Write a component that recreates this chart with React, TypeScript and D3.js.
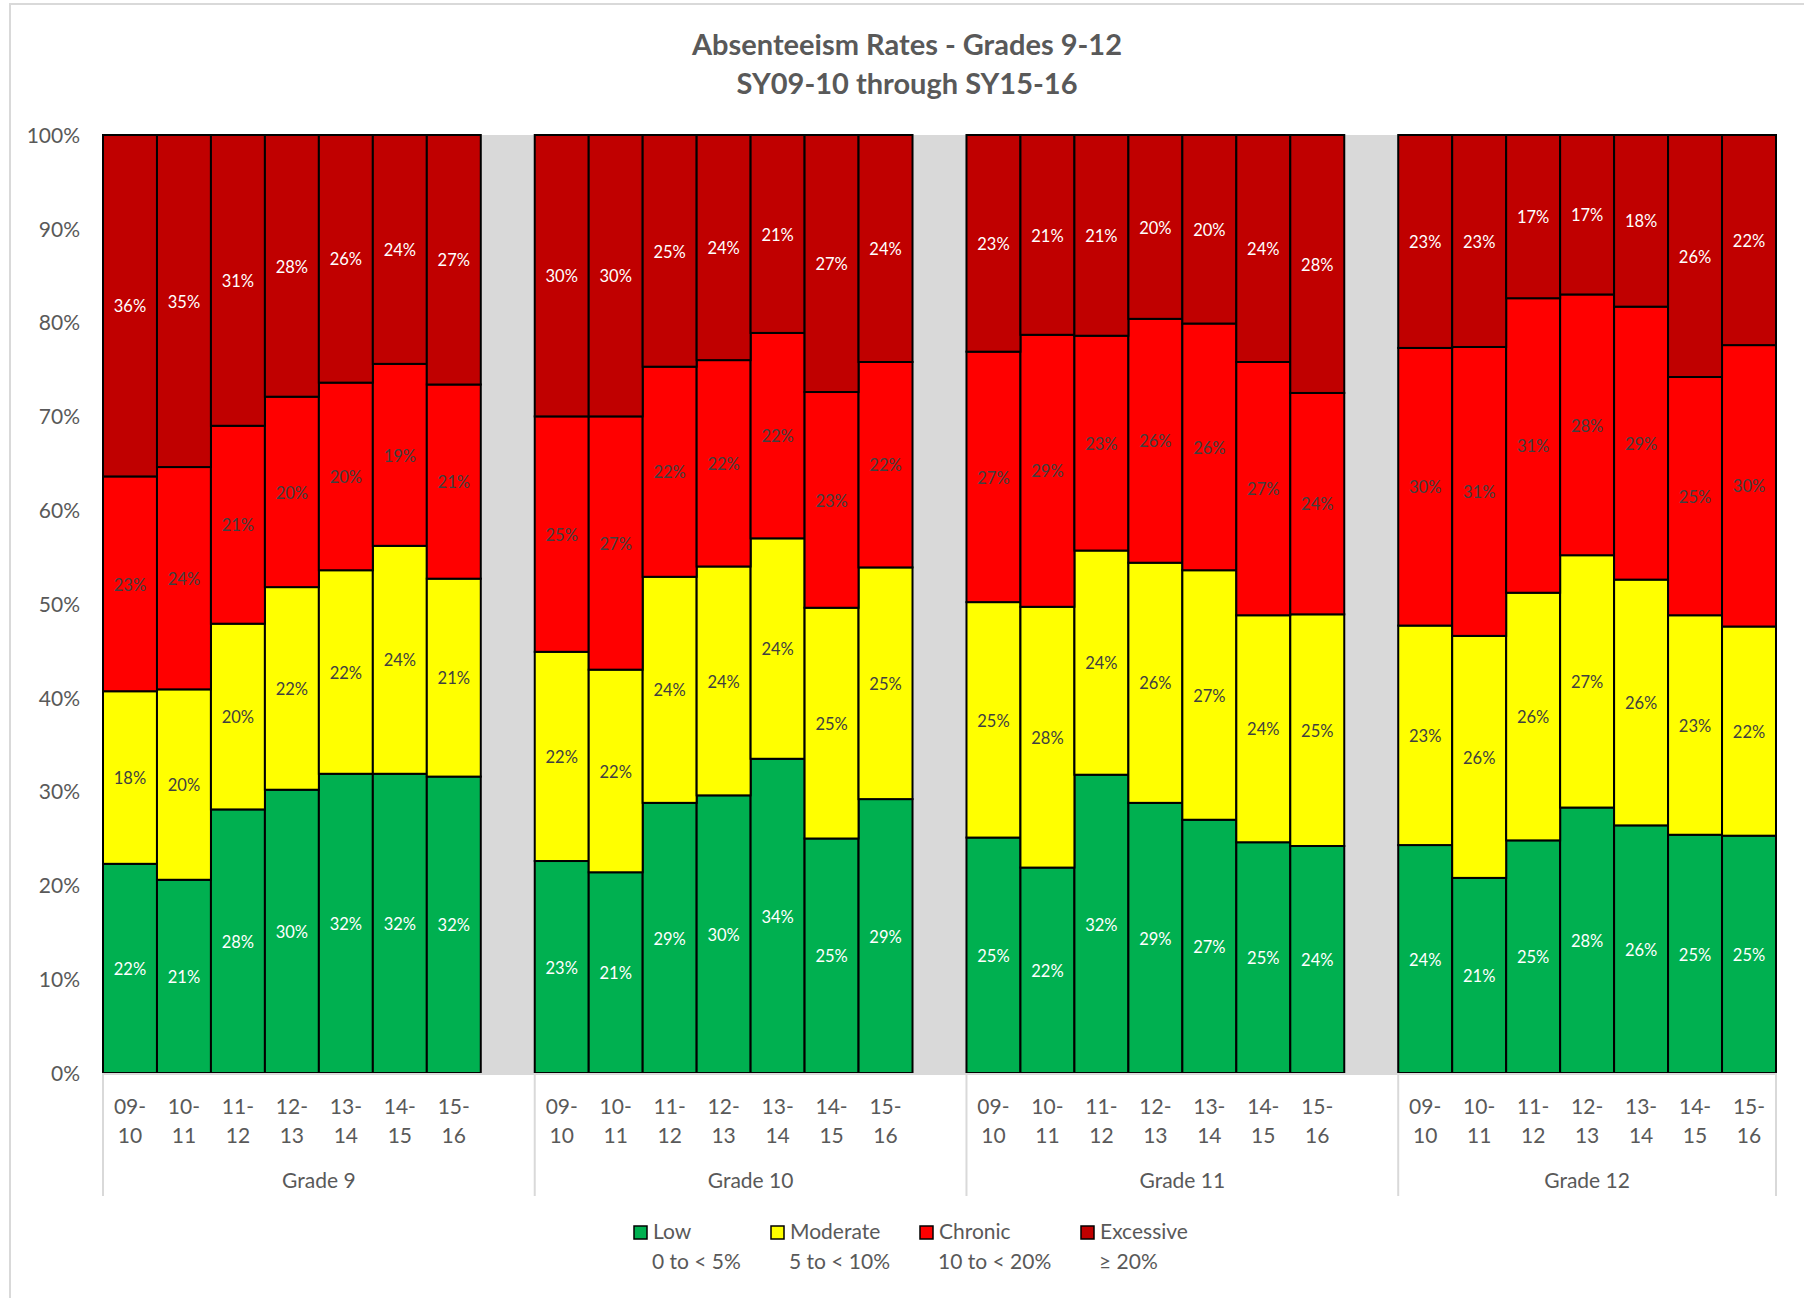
import React from "react";
import * as d3 from "d3";

const grades = ["Grade 9", "Grade 10", "Grade 11", "Grade 12"];
const years = ["09-10", "10-11", "11-12", "12-13", "13-14", "14-15", "15-16"];

// Percent of students in each absenteeism band, per grade (rows) and school year (columns)
const lowPct = [
  [22.3, 20.6, 28.1, 30.2, 31.9, 31.9, 31.6],
  [22.6, 21.4, 28.8, 29.6, 33.5, 25.0, 29.2],
  [25.1, 21.9, 31.8, 28.8, 27.0, 24.6, 24.2],
  [24.3, 20.8, 24.8, 28.3, 26.4, 25.4, 25.3],
];
const moderatePct = [
  [18.4, 20.3, 19.8, 21.6, 21.7, 24.3, 21.1],
  [22.3, 21.6, 24.1, 24.4, 23.5, 24.6, 24.7],
  [25.1, 27.8, 23.9, 25.6, 26.6, 24.2, 24.7],
  [23.4, 25.8, 26.4, 26.9, 26.2, 23.4, 22.3],
];
const chronicPct = [
  [22.9, 23.7, 21.1, 20.3, 20.0, 19.4, 20.7],
  [25.1, 27.0, 22.4, 22.0, 21.9, 23.0, 21.9],
  [26.7, 29.0, 22.9, 26.0, 26.3, 27.0, 23.6],
  [29.6, 30.8, 31.4, 27.8, 29.1, 25.4, 30.0],
];
const excessivePct = [
  [36.4, 35.4, 31.0, 27.9, 26.4, 24.4, 26.6],
  [30.0, 30.0, 24.7, 24.0, 21.1, 27.4, 24.2],
  [23.1, 21.3, 21.4, 19.6, 20.1, 24.2, 27.5],
  [22.7, 22.6, 17.4, 17.0, 18.3, 25.8, 22.4],
];

const seriesKeys = ["low", "moderate", "chronic", "excessive"];
const seriesColors = ["#00B050", "#FFFF00", "#FF0000", "#C00000"];
const labelColors = ["#FFFFFF", "#404040", "#404040", "#FFFFFF"];
const legendNames = ["Low", "Moderate", "Chronic", "Excessive"];
const legendRanges = ["0 to < 5%", "5 to < 10%", "10 to < 20%", "≥ 20%"];
const yTicks = [0, 0.1, 0.2, 0.3, 0.4, 0.5, 0.6, 0.7, 0.8, 0.9, 1.0];
const titleLines = ["Absenteeism Rates - Grades 9-12", "SY09-10 through SY15-16"];

const FONT = "Lato, 'Noto Sans', sans-serif";
const TEXT = "#595959";
const DY = 2.5;

export default function App() {
  const W = 1804;
  const H = 1298;
  const plot = { left: 103, right: 1776, top: 135, bottom: 1073 };

  const slots: string[] = [];
  const rows: any[] = [];
  grades.forEach((g, gi) => {
    years.forEach((yr, yi) => {
      const key = `${g}|${yr}`;
      slots.push(key);
      rows.push({
        key,
        year: yr,
        low: lowPct[gi][yi],
        moderate: moderatePct[gi][yi],
        chronic: chronicPct[gi][yi],
        excessive: excessivePct[gi][yi],
      });
    });
    if (gi < grades.length - 1) slots.push(`gap${gi}`);
  });

  const x = d3.scaleBand<string>().domain(slots).range([plot.left, plot.right]).paddingInner(0).paddingOuter(0);
  const y = d3.scaleLinear().domain([0, 1]).range([plot.bottom, plot.top]);
  const stacked = d3.stack<any>().keys(seriesKeys).offset(d3.stackOffsetExpand)(rows);

  const sepXs = grades.map((g) => x(`${g}|${years[0]}`) as number).concat([plot.right]);

  const legendMarkerX = [634, 771, 920, 1081];

  return (
    <svg
      width={W}
      height={H}
      style={{ position: "absolute", left: 0, top: 0, background: "#FFFFFF" }}
      fontFamily={FONT}
    >
      <rect x={0} y={0} width={W} height={H} fill="#FFFFFF" />
      {/* chart area border */}
      <rect x={10} y={4} width={W} height={H} fill="none" stroke="#D9D9D9" strokeWidth={2} />

      {/* title */}
      {titleLines.map((t, i) => (
        <text
          key={t}
          x={907}
          y={55 + i * 39}
          textAnchor="middle"
          fontSize={29}
          fontWeight="bold"
          fill={TEXT}
        >
          {t}
        </text>
      ))}

      {/* plot background */}
      <rect
        x={plot.left}
        y={plot.top}
        width={plot.right - plot.left}
        height={plot.bottom - plot.top}
        fill="#D9D9D9"
      />

      {/* y tick labels */}
      {yTicks.map((t) => (
        <text
          key={t}
          x={80}
          y={y(t) + DY}
          textAnchor="end"
          dominantBaseline="middle"
          fontSize={21}
          fill={TEXT}
        >
          {d3.format(".0%")(t)}
        </text>
      ))}

      {/* bars */}
      {stacked.map((s, si) => (
        <g key={s.key}>
          {s.map((d: any) => (
            <rect
              key={d.data.key}
              x={x(d.data.key)}
              y={y(d[1])}
              width={x.bandwidth()}
              height={y(d[0]) - y(d[1])}
              fill={seriesColors[si]}
              stroke="#000000"
              strokeWidth={2}
            />
          ))}
        </g>
      ))}

      {/* data labels */}
      {stacked.map((s, si) => (
        <g key={`lab-${s.key}`}>
          {s.map((d: any) => (
            <text
              key={d.data.key}
              x={(x(d.data.key) as number) + x.bandwidth() / 2}
              y={y((d[0] + d[1]) / 2) + DY}
              textAnchor="middle"
              dominantBaseline="middle"
              fontSize={16.5}
              fill={labelColors[si]}
            >
              {Math.round(d.data[s.key as string])}%
            </text>
          ))}
        </g>
      ))}

      {/* category axis line */}
      <line x1={plot.left} x2={plot.right} y1={plot.bottom + 1} y2={plot.bottom + 1} stroke="#D9D9D9" strokeWidth={2} />

      {/* group separators */}
      {sepXs.map((sx, i) => (
        <line key={i} x1={sx} x2={sx} y1={plot.bottom} y2={1196} stroke="#D9D9D9" strokeWidth={2} />
      ))}

      {/* year labels */}
      {rows.map((r) => {
        const parts = r.year.split("-");
        const cx = (x(r.key) as number) + x.bandwidth() / 2;
        return (
          <g key={`yl-${r.key}`}>
            <text x={cx} y={1106 + DY} textAnchor="middle" dominantBaseline="middle" fontSize={21} fill={TEXT}>
              {parts[0]}-
            </text>
            <text x={cx} y={1135 + DY} textAnchor="middle" dominantBaseline="middle" fontSize={21} fill={TEXT}>
              {parts[1]}
            </text>
          </g>
        );
      })}

      {/* group labels */}
      {grades.map((g, i) => (
        <text
          key={g}
          x={(sepXs[i] + sepXs[i + 1]) / 2}
          y={1180 + 3}
          textAnchor="middle"
          dominantBaseline="middle"
          fontSize={21}
          fill={TEXT}
        >
          {g}
        </text>
      ))}

      {/* legend */}
      {legendNames.map((n, i) => (
        <g key={n}>
          <rect
            x={legendMarkerX[i]}
            y={1226}
            width={13}
            height={13}
            fill={seriesColors[i]}
            stroke="#000000"
            strokeWidth={1.5}
          />
          <text x={legendMarkerX[i] + 19} y={1234} dominantBaseline="middle" fontSize={21} fill={TEXT}>
            {n}
          </text>
          <text x={legendMarkerX[i] + 18} y={1264} dominantBaseline="middle" fontSize={21} fill={TEXT}>
            {legendRanges[i]}
          </text>
        </g>
      ))}
    </svg>
  );
}
